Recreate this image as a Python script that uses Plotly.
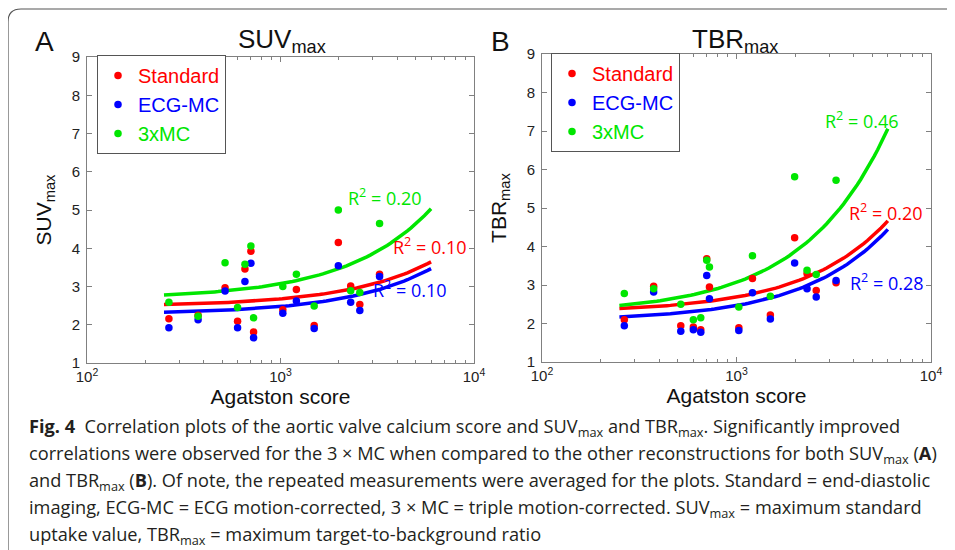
import plotly.graph_objects as go
import numpy as np

# Agatston score (same patients in both panels)
agatston = [265, 375, 517, 600, 655, 703, 726, 1028, 1208, 1493, 1990, 2305, 2570, 3250]

# panel A: SUVmax
suv_standard = [2.16, 2.25, 2.97, 2.09, 3.46, 3.92, 1.81, 2.39, 2.92, 1.98, 4.15, 3.01, 2.53, 3.32]
suv_ecg = [1.92, 2.13, 2.88, 1.92, 3.13, 3.61, 1.66, 2.30, 2.62, 1.90, 3.54, 2.59, 2.37, 3.26]
suv_3x = [2.59, 2.22, 3.62, 2.45, 3.58, 4.06, 2.18, 3.00, 3.32, 2.49, 5.00, 2.89, 2.84, 4.65]

# panel B: TBRmax
tbr_standard = [2.10, 2.97, 1.94, 1.91, 1.84, 3.68, 2.95, 1.89, 3.17, 2.22, 4.23, 3.30, 2.86, 3.06]
tbr_ecg = [1.94, 2.82, 1.80, 1.84, 1.77, 3.25, 2.64, 1.82, 2.80, 2.12, 3.57, 2.90, 2.69, 3.12]
tbr_3x = [2.78, 2.90, 2.50, 2.10, 2.15, 3.64, 3.47, 2.43, 3.76, 2.71, 5.81, 3.38, 3.27, 5.72]

fit_range = [250, 6000]
suv_fits = {'Standard': (2.48, 0.000194), 'ECG-MC': (2.28, 0.000198), '3xMC': (2.68, 0.000392)}
tbr_fits = {'Standard': (2.29, 0.000396), 'ECG-MC': (2.07, 0.000396), '3xMC': (2.27, 0.000798)}
suv_r2 = {'Standard': '0.10', 'ECG-MC': '0.10', '3xMC': '0.20'}
tbr_r2 = {'Standard': '0.20', 'ECG-MC': '0.28', '3xMC': '0.46'}

names = ['Standard', 'ECG-MC', '3xMC']
colors = {'Standard': '#ff0000', 'ECG-MC': '#0000ff', '3xMC': '#00e600'}

W, H = 955, 550
OFF = 8  # the page body adds an 8px margin, so pull everything back by that much
axis_font = 'Liberation Sans, Arial, sans-serif'
label_font = 'Open Sans, sans-serif'


def px(x, y):
    # screen pixel position -> paper coordinates
    return (x - OFF) / W, 1 - (y - OFF) / H


def xdom(x0, x1):
    return [px(x0, 0)[0], px(x1, 0)[0]]


def ydom(y_bottom, y_top):
    return [px(0, y_bottom)[1], px(0, y_top)[1]]


fig = go.Figure()

xfit = np.logspace(np.log10(fit_range[0]), np.log10(fit_range[1]), 80)
panels = [
    ('x', 'y', 'legend', [suv_standard, suv_ecg, suv_3x], suv_fits),
    ('x2', 'y2', 'legend2', [tbr_standard, tbr_ecg, tbr_3x], tbr_fits),
]
for xa, ya, lg, series, fits in panels:
    for name, vals in zip(names, series):
        a, b = fits[name]
        fig.add_trace(go.Scatter(x=xfit, y=a + b * xfit, mode='lines', xaxis=xa, yaxis=ya,
                                 line=dict(color=colors[name], width=3.5),
                                 showlegend=False, hoverinfo='skip'))
    for name, vals in zip(names, series):
        fig.add_trace(go.Scatter(x=agatston, y=vals, mode='markers', xaxis=xa, yaxis=ya,
                                 marker=dict(color=colors[name], size=7.5),
                                 name="<span style='color:%s'>%s</span>" % (colors[name], name),
                                 legend=lg))

axis_common = dict(showline=True, linecolor='#808080', linewidth=1, mirror='allticks',
                   ticks='inside', ticklen=5, tickcolor='#808080', showgrid=False, zeroline=False,
                   automargin=False,
                   tickfont=dict(family=axis_font, size=15, color='#222'))
xaxis_common = dict(axis_common, type='log', range=[2, 4],
                    tickvals=[100, 1000, 10000],
                    ticktext=['10<sup>2</sup>', '10<sup>3</sup>', '10<sup>4</sup>'],
                    minor=dict(ticks='inside', ticklen=3, tickcolor='#808080', dtick='D1'),
                    title=dict(text='Agatston score', font=dict(family=axis_font, size=21, color='#111'),
                               standoff=0))
yaxis_common = dict(axis_common, range=[1, 9], dtick=1, ticklabelstandoff=3)

legend_common = dict(xanchor='left', yanchor='top', bgcolor='white',
                     bordercolor='#555', borderwidth=1, font=dict(family=axis_font, size=20),
                     itemsizing='trace', tracegroupgap=0)

fig.update_layout(
    width=W, height=H,
    margin=dict(l=0, r=0, t=0, b=0),
    paper_bgcolor='white', plot_bgcolor='white',
    xaxis=dict(xaxis_common, domain=xdom(87, 474), anchor='y'),
    yaxis=dict(yaxis_common, domain=ydom(363, 57), anchor='x',
               title=dict(text='SUV<sub>max</sub>', font=dict(family=axis_font, size=21, color='#111'),
                          standoff=14)),
    xaxis2=dict(xaxis_common, domain=xdom(542, 931), anchor='y2'),
    yaxis2=dict(yaxis_common, domain=ydom(362, 54), anchor='x2',
                title=dict(text='TBR<sub>max</sub>', font=dict(family=axis_font, size=21, color='#111'),
                           standoff=14)),
    legend=dict(legend_common, x=px(97, 0)[0], y=px(0, 55)[1]),
    legend2=dict(legend_common, x=px(551, 0)[0], y=px(0, 53)[1]),
    showlegend=True,
)

# panel titles and letters
for txt, (x, y), size in [('SUV<sub>max</sub>', (282, 40), 26), ('TBR<sub>max</sub>', (735, 40), 26),
                          ('A', (44, 42), 28), ('B', (500, 42), 28)]:
    xp, yp = px(x, y)
    fig.add_annotation(x=xp, y=yp, xref='paper', yref='paper', text=txt, showarrow=False,
                       xanchor='center', yanchor='middle',
                       font=dict(family=axis_font, size=size, color='#111'))

# R^2 labels next to the fit lines
r2_pos = [
    ('x', 'y', suv_r2, {'3xMC': (3.54, 5.34), 'Standard': (3.773, 4.06), 'ECG-MC': (3.669, 2.93)}),
    ('x2', 'y2', tbr_r2, {'3xMC': (3.645, 7.29), 'Standard': (3.769, 4.90), 'ECG-MC': (3.774, 3.08)}),
]
for xa, ya, r2, pos in r2_pos:
    for name in names:
        lx, ly = pos[name]
        fig.add_annotation(x=lx, y=ly, xref=xa, yref=ya, text='R<sup>2</sup> = ' + r2[name],
                           showarrow=False, font=dict(family=label_font, size=18, color=colors[name]))

# caption
caption = [
    '<b>Fig. 4</b>  Correlation plots of the aortic valve calcium score and SUV<sub>max</sub> and TBR<sub>max</sub>. Significantly improved',
    'correlations were observed for the 3 × MC when compared to the other reconstructions for both SUV<sub>max</sub> (<b>A</b>)',
    'and TBR<sub>max</sub> (<b>B</b>). Of note, the repeated measurements were averaged for the plots. Standard = end-diastolic',
    'imaging, ECG-MC = ECG motion-corrected, 3 × MC = triple motion-corrected. SUV<sub>max</sub> = maximum standard',
    'uptake value, TBR<sub>max</sub> = maximum target-to-background ratio',
]
for i, line in enumerate(caption):
    xp, yp = px(27, 427 + 27 * i)
    fig.add_annotation(x=xp, y=yp, xref='paper', yref='paper', text=line, showarrow=False,
                       xanchor='left', yanchor='middle',
                       font=dict(family=label_font, size=18.2, color='#231f20'))

# rounded frame around the figure
fx, fy_top = px(8, 9)
_, fy_corner = px(0, 22)
fx_corner, _ = px(21, 0)
fig.add_shape(type='path', xref='paper', yref='paper',
              path='M %f,%f L %f,%f Q %f,%f %f,%f L %f,%f' % (
                  fx, -0.05, fx, fy_corner, fx, fy_top, fx_corner, fy_top, 1.05, fy_top),
              line=dict(color='#555', width=1.2))

fig.write_html("out.html")
